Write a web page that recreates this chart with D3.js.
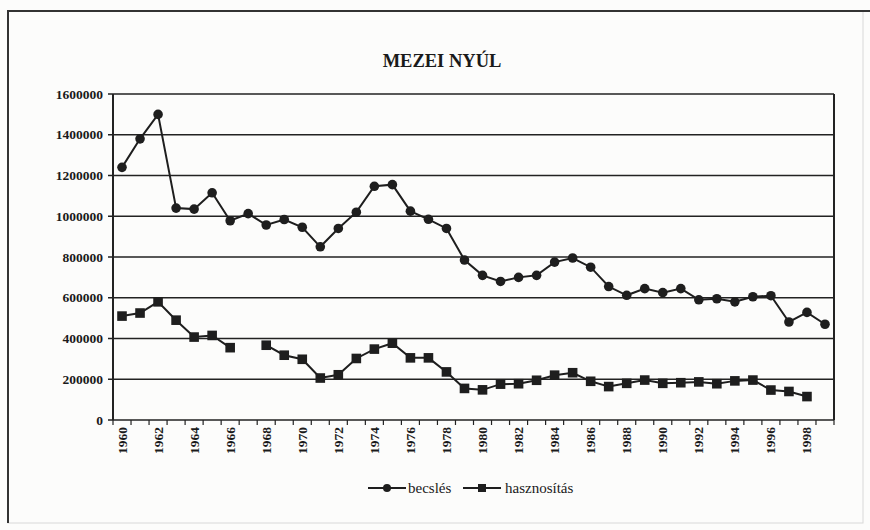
<!DOCTYPE html>
<html>
<head>
<meta charset="utf-8">
<script src="https://cdn.jsdelivr.net/npm/d3@7"></script>
<style>
  body { margin: 0; background: #fcfcfb; }
  text { font-family: "Liberation Serif", "Times New Roman", serif; fill: #1a1a1a; }
</style>
</head>
<body>
<div id="chart"></div>
<script>
var width = 870,
    height = 530;

// data
var years = d3.range(1960, 2000);
var becsles = [1240000, 1380000, 1500000, 1040000, 1035000, 1115000, 978000, 1013000, 957000, 984000,
               946000, 850000, 940000, 1020000, 1147000, 1155000, 1025000, 985000, 940000, 785000,
               710000, 680000, 700000, 710000, 775000, 795000, 750000, 655000, 612000, 645000,
               625000, 645000, 590000, 595000, 580000, 605000, 610000, 481000, 528000, 470000];
var hasznositas = [510000, 525000, 580000, 490000, 407000, 415000, 355000, null, 367000, 318000,
                   298000, 206000, 222000, 302000, 348000, 377000, 305000, 305000, 236000, 155000,
                   148000, 176000, 178000, 195000, 220000, 232000, 190000, 164000, 180000, 196000,
                   180000, 183000, 187000, 178000, 192000, 196000, 147000, 140000, 115000, null];
var yTicks = [0, 200000, 400000, 600000, 800000, 1000000, 1200000, 1400000, 1600000];
var seriesNames = ["becslés", "hasznosítás"];

var margin = {top: 94, right: 36, bottom: 110, left: 113};

var svg = d3.select("#chart").append("svg")
  .attr("width", width)
  .attr("height", height);

// outer frame of the scanned figure
svg.append("rect")
  .attr("x", 8).attr("y", 11)
  .attr("width", 855).attr("height", 512)
  .attr("fill", "none")
  .attr("stroke", "#d8d8d8")
  .attr("stroke-width", 1);
svg.append("path")
  .attr("d", "M8,523V11H870")
  .attr("fill", "none")
  .attr("stroke", "#333")
  .attr("stroke-width", 2);

var x = d3.scaleBand()
  .domain(years)
  .range([margin.left, width - margin.right]);

var y = d3.scaleLinear()
  .domain([0, 1600000])
  .range([height - margin.bottom, margin.top]);

// gridlines
svg.append("g")
  .selectAll("line")
  .data(yTicks)
  .enter()
  .append("line")
    .attr("x1", margin.left - 5)
    .attr("x2", width - margin.right)
    .attr("y1", function(d) { return y(d); })
    .attr("y2", function(d) { return y(d); })
    .attr("stroke", "#222")
    .attr("stroke-width", 1.5);

// y axis labels
svg.append("g")
  .selectAll("text")
  .data(yTicks)
  .enter()
  .append("text")
    .attr("x", margin.left - 10)
    .attr("y", function(d) { return y(d) + 4.5; })
    .attr("text-anchor", "end")
    .style("font-size", "13.5px")
    .style("font-weight", "bold")
    .text(function(d) { return d; });

// frame of the plot
svg.append("line")
  .attr("x1", margin.left).attr("x2", margin.left)
  .attr("y1", margin.top).attr("y2", height - margin.bottom)
  .attr("stroke", "#222").attr("stroke-width", 2);
svg.append("line")
  .attr("x1", width - margin.right).attr("x2", width - margin.right)
  .attr("y1", margin.top).attr("y2", height - margin.bottom)
  .attr("stroke", "#222").attr("stroke-width", 2);

// x ticks at category boundaries
var xAxis = svg.append("g")
  .attr("transform", "translate(0," + (height - margin.bottom) + ")");
xAxis.selectAll("line.tick")
  .data(years.concat([2000]))
  .enter()
  .append("line")
    .attr("class", "tick")
    .attr("x1", function(d) { return d < 2000 ? x(d) : x(1999) + x.bandwidth(); })
    .attr("x2", function(d) { return d < 2000 ? x(d) : x(1999) + x.bandwidth(); })
    .attr("y1", 0).attr("y2", 5)
    .attr("stroke", "#222").attr("stroke-width", 1.2);
xAxis.selectAll("text")
  .data(years.filter(function(d) { return d % 2 === 0; }))
  .enter()
  .append("text")
    .attr("transform", function(d) {
      return "translate(" + (x(d) + x.bandwidth() / 2 + 4.5) + ",7) rotate(-90)";
    })
    .attr("text-anchor", "end")
    .style("font-size", "13.5px")
    .style("font-weight", "bold")
    .text(function(d) { return d; });

// title
svg.append("text")
  .attr("x", 442)
  .attr("y", 67)
  .attr("text-anchor", "middle")
  .style("font-size", "18.5px")
  .style("font-weight", "bold")
  .text("MEZEI NYÚL");

var cx = function(i) { return x(years[i]) + x.bandwidth() / 2; };

var line = d3.line()
  .defined(function(d) { return d !== null; })
  .x(function(d, i) { return cx(i); })
  .y(function(d) { return y(d); });

svg.append("path")
  .datum(becsles)
  .attr("d", line)
  .attr("fill", "none")
  .attr("stroke", "#1e1e1e")
  .attr("stroke-width", 2);

svg.append("path")
  .datum(hasznositas)
  .attr("d", line)
  .attr("fill", "none")
  .attr("stroke", "#1e1e1e")
  .attr("stroke-width", 2);

svg.append("g")
  .selectAll("circle")
  .data(becsles)
  .enter()
  .append("circle")
    .attr("cx", function(d, i) { return cx(i); })
    .attr("cy", function(d) { return y(d); })
    .attr("r", 4.8)
    .attr("fill", "#1e1e1e");

svg.append("g")
  .selectAll("rect")
  .data(hasznositas.map(function(d, i) { return {v: d, i: i}; }).filter(function(d) { return d.v !== null; }))
  .enter()
  .append("rect")
    .attr("x", function(d) { return cx(d.i) - 4.8; })
    .attr("y", function(d) { return y(d.v) - 4.8; })
    .attr("width", 9.6)
    .attr("height", 9.6)
    .attr("fill", "#1e1e1e");

// legend
var legend = svg.append("g").attr("transform", "translate(368,488)");
var legendItems = [
  {name: seriesNames[0], x0: 0, shape: "circle", tx: 40},
  {name: seriesNames[1], x0: 95, shape: "rect", tx: 137}
];
legendItems.forEach(function(d) {
  legend.append("line")
    .attr("x1", d.x0).attr("x2", d.x0 + 38)
    .attr("y1", 0).attr("y2", 0)
    .attr("stroke", "#1e1e1e").attr("stroke-width", 2);
  if (d.shape === "circle") {
    legend.append("circle").attr("cx", d.x0 + 19).attr("cy", 0).attr("r", 4).attr("fill", "#1e1e1e");
  } else {
    legend.append("rect").attr("x", d.x0 + 15).attr("y", -4).attr("width", 8).attr("height", 8).attr("fill", "#1e1e1e");
  }
  legend.append("text")
    .attr("x", d.tx)
    .attr("y", 5)
    .style("font-size", "15px")
    .text(d.name);
});
</script>
</body>
</html>
